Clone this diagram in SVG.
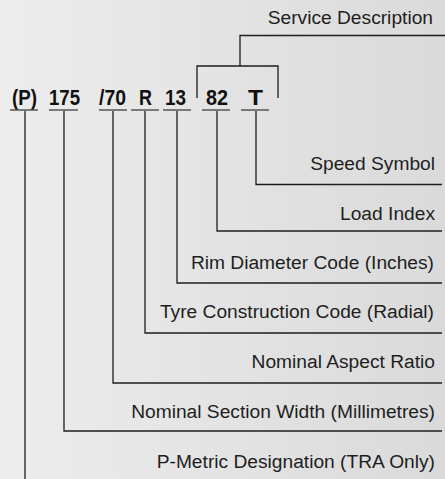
<svg xmlns="http://www.w3.org/2000/svg" width="445" height="479" viewBox="0 0 445 479">
<defs>
<linearGradient id="bg" x1="0" y1="0" x2="1" y2="0">
<stop offset="0" stop-color="#ededed"/>
<stop offset="1" stop-color="#dadada"/>
</linearGradient>
<style>
.lbl{font-family:"Liberation Sans",Arial,sans-serif;font-size:19.2px;fill:#1e1e1e;text-anchor:end}
.code{font-family:"Liberation Sans",Arial,sans-serif;font-size:21.5px;font-weight:bold;fill:#111}
.ln{fill:none;stroke:#1e1e1e;stroke-width:1.3}
.ul{fill:none;stroke:#555;stroke-width:1.5}
</style>
</defs>
<rect width="445" height="479" fill="url(#bg)"/>
<g id="codes">
<g id="code-P"><text class="code" x="12" y="105" textLength="25" lengthAdjust="spacingAndGlyphs">(P)</text><line class="ul" x1="10" y1="110" x2="38" y2="110"/></g>
<g id="code-175"><text class="code" x="49" y="105" textLength="31" lengthAdjust="spacingAndGlyphs">175</text><line class="ul" x1="49" y1="110" x2="78" y2="110"/></g>
<g id="code-70"><text class="code" x="99" y="105" textLength="27" lengthAdjust="spacingAndGlyphs">/70</text><line class="ul" x1="99" y1="110" x2="127" y2="110"/></g>
<g id="code-R"><text class="code" x="139" y="105" textLength="13" lengthAdjust="spacingAndGlyphs">R</text><line class="ul" x1="131" y1="110" x2="159" y2="110"/></g>
<g id="code-13"><text class="code" x="165" y="105" textLength="21" lengthAdjust="spacingAndGlyphs">13</text><line class="ul" x1="163" y1="110" x2="191" y2="110"/></g>
<g id="code-82"><text class="code" x="206" y="105" textLength="22" lengthAdjust="spacingAndGlyphs">82</text><line class="ul" x1="202" y1="110" x2="230" y2="110"/></g>
<g id="code-T"><text class="code" x="248" y="105" textLength="15" lengthAdjust="spacingAndGlyphs">T</text><line class="ul" x1="241" y1="110" x2="269" y2="110"/></g>
</g>
<g id="labels">
<g id="service-description"><text class="lbl" x="433" y="24">Service Description</text></g>
<g id="speed-symbol"><text class="lbl" x="435" y="170">Speed Symbol</text></g>
<g id="load-index"><text class="lbl" x="435" y="220">Load Index</text></g>
<g id="rim-diameter"><text class="lbl" x="434" y="269">Rim Diameter Code (Inches)</text></g>
<g id="tyre-construction"><text class="lbl" x="434" y="318">Tyre Construction Code (Radial)</text></g>
<g id="aspect-ratio"><text class="lbl" x="435" y="368">Nominal Aspect Ratio</text></g>
<g id="section-width"><text class="lbl" x="435" y="418">Nominal Section Width (Millimetres)</text></g>
<g id="p-metric"><text class="lbl" x="435" y="468">P-Metric Designation (TRA Only)</text></g>
</g>
<g id="connectors">
<polyline class="ln" points="197,98 197,66 278,66 278,98"/>
<polyline class="ln" points="240,66 240,35.5 445,35.5"/>
<polyline class="ln" points="256,111 256,184.5 442,184.5"/>
<polyline class="ln" points="217,111 217,231 442,231"/>
<polyline class="ln" points="177,111 177,283 442,283"/>
<polyline class="ln" points="145,111 145,333 442,333"/>
<polyline class="ln" points="113,111 113,383 442,383"/>
<polyline class="ln" points="64,111 64,431 442,431"/>
<line class="ln" x1="25" y1="111" x2="25" y2="479"/>
</g>
</svg>
